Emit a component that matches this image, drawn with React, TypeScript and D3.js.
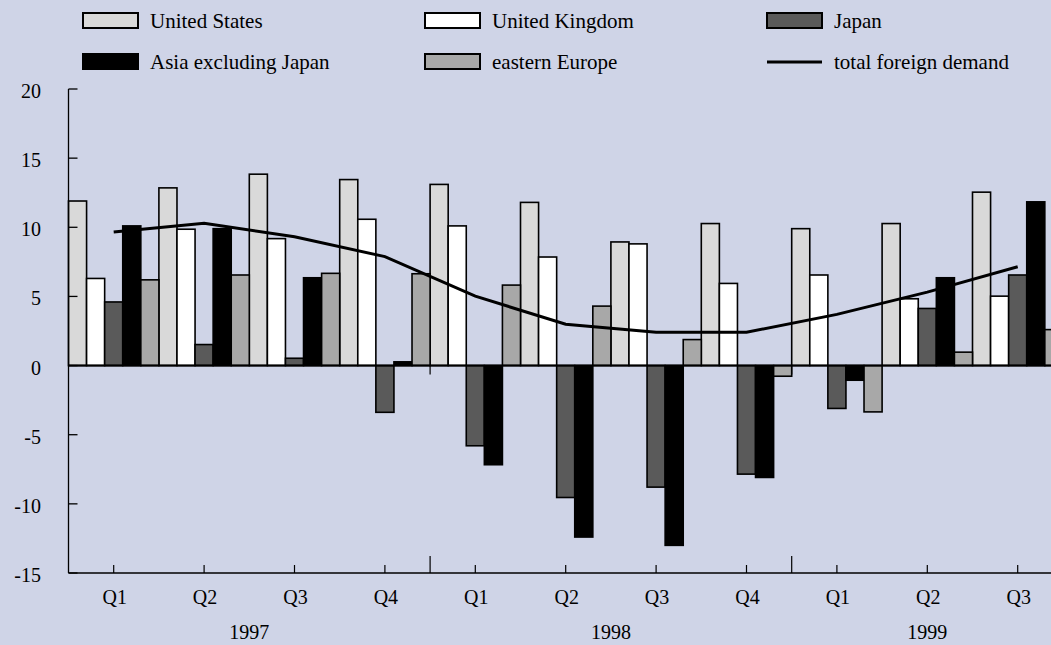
import * as d3 from 'd3';

const quarters = ['Q1', 'Q2', 'Q3', 'Q4', 'Q1', 'Q2', 'Q3', 'Q4', 'Q1', 'Q2', 'Q3'];
const quarterYears = ['1997', '1997', '1997', '1997', '1998', '1998', '1998', '1998', '1999', '1999', '1999'];
const yearLabels = ['1997', '1998', '1999'];
const yTicks = [20, 15, 10, 5, 0, -5, -10, -15];

const seriesNames = ['United States', 'United Kingdom', 'Japan', 'Asia excluding Japan', 'eastern Europe'];
const unitedStates = [11.9, 12.85, 13.84, 13.45, 13.1, 11.8, 8.94, 10.27, 9.9, 10.27, 12.54];
const unitedKingdom = [6.3, 9.86, 9.18, 10.58, 10.1, 7.85, 8.8, 5.94, 6.55, 4.83, 5.02];
const japan = [4.6, 1.52, 0.53, -3.38, -5.8, -9.54, -8.79, -7.85, -3.1, 4.13, 6.55];
const asiaExJapan = [10.1, 9.9, 6.35, 0.27, -7.17, -12.4, -13.0, -8.09, -1.06, 6.35, 11.84];
const easternEurope = [6.2, 6.55, 6.67, 6.64, 5.82, 4.3, 1.88, -0.77, -3.35, 0.97, 2.6];
const totalForeignDemand = [9.66, 10.29, 9.32, 7.88, 5.02, 2.99, 2.41, 2.41, 3.7, 5.31, 7.15];

const seriesValues = [unitedStates, unitedKingdom, japan, asiaExJapan, easternEurope];
const seriesColors = ['#d9d9d9', '#ffffff', '#5a5a5a', '#000000', '#a8a8a8'];

const W = 1051;
const H = 645;
const left = 68.5;
const groupW = 90.4;
const font = '"Liberation Serif", "Times New Roman", serif';

function App() {
    const idx = quarters.map((_, i) => String(i));
    const x = d3.scaleBand().domain(idx).range([left, left + groupW * quarters.length]).padding(0);
    const xInner = d3.scaleBand().domain(seriesNames).range([0, x.bandwidth()]).padding(0);
    const y = d3.scaleLinear().domain([-15, 20]).range([573, 89]);

    const line = d3
        .line<number>()
        .x((_, i) => x(String(i))! + x.bandwidth() / 2)
        .y((d) => y(d));

    // year boundaries & spans
    const years = yearLabels.map((yr) => {
        const ids = quarterYears.map((q, i) => (q === yr ? i : -1)).filter((i) => i >= 0);
        const x0 = x(String(ids[0]))!;
        const x1 = x(String(ids[ids.length - 1]))! + x.bandwidth();
        return { yr, x0, x1 };
    });

    const legendCols = [83, 425, 767];
    const legendRows = [13, 54];

    return (
        <svg
            width={W}
            height={H}
            style={{ position: 'absolute', left: 0, top: 0, background: '#cfd4e7' }}
            fontFamily={font}
        >
            <rect x={0} y={0} width={W} height={H} fill="#cfd4e7" />

            {/* legend */}
            {seriesNames.map((name, i) => {
                const lx = legendCols[i % 3];
                const ly = legendRows[Math.floor(i / 3)];
                return (
                    <g key={name}>
                        <rect x={lx} y={ly} width={55} height={15} fill={seriesColors[i]} stroke="#000" strokeWidth={2} />
                        <text x={lx + 67} y={ly + 15} fontSize={21}>{name}</text>
                    </g>
                );
            })}
            <line x1={767} x2={822} y1={62} y2={62} stroke="#000" strokeWidth={3} />
            <text x={834} y={69} fontSize={21}>total foreign demand</text>

            {/* bars */}
            {seriesValues.map((vals, s) =>
                vals.map((v, i) => (
                    <rect
                        key={`${s}-${i}`}
                        x={x(String(i))! + xInner(seriesNames[s])!}
                        y={y(Math.max(0, v))}
                        width={xInner.bandwidth()}
                        height={Math.abs(y(v) - y(0))}
                        fill={seriesColors[s]}
                        stroke="#000"
                        strokeWidth={1.6}
                    />
                ))
            )}

            {/* zero line */}
            <line x1={left} x2={W} y1={y(0)} y2={y(0)} stroke="#000" strokeWidth={2} />
            {years.slice(1).map((d) => (
                <line key={`z${d.yr}`} x1={d.x0} x2={d.x0} y1={y(0)} y2={y(0) + 9} stroke="#000" strokeWidth={1.2} />
            ))}

            {/* total foreign demand */}
            <path d={line(totalForeignDemand)!} fill="none" stroke="#000" strokeWidth={3} />

            {/* y axis */}
            <line x1={left} x2={left} y1={y(20)} y2={y(-15)} stroke="#000" strokeWidth={1.3} />
            {yTicks.map((t) => (
                <g key={t}>
                    <line x1={left} x2={left + 9} y1={y(t)} y2={y(t)} stroke="#000" strokeWidth={1.3} />
                    <text x={41} y={y(t) + 9} fontSize={20} textAnchor="end">{t}</text>
                </g>
            ))}

            {/* x axis */}
            <line x1={left} x2={W} y1={y(-15)} y2={y(-15)} stroke="#000" strokeWidth={1.5} />
            {quarters.map((q, i) => {
                const cx = x(String(i))! + x.bandwidth() / 2;
                return (
                    <g key={`q${i}`}>
                        <line x1={cx} x2={cx} y1={y(-15) - 8} y2={y(-15)} stroke="#000" strokeWidth={1.2} />
                        <text x={cx + 1} y={604} fontSize={20} textAnchor="middle">{q}</text>
                    </g>
                );
            })}
            {years.slice(1).map((d) => (
                <line key={`y${d.yr}`} x1={d.x0} x2={d.x0} y1={y(-15) - 17} y2={y(-15)} stroke="#000" strokeWidth={1.2} />
            ))}
            {years.map((d) => (
                <text key={d.yr} x={(d.x0 + d.x1) / 2} y={639} fontSize={20} textAnchor="middle">{d.yr}</text>
            ))}
        </svg>
    );
}

export default App;
